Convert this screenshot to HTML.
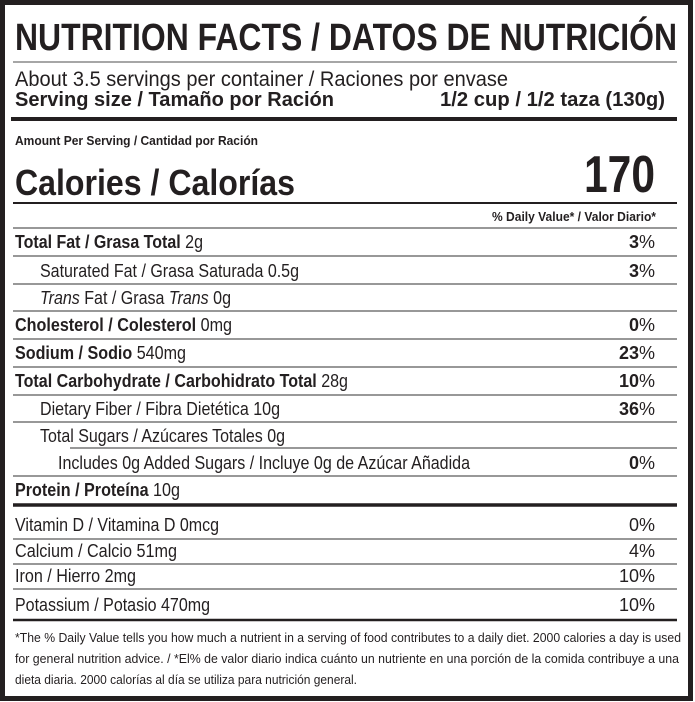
<!DOCTYPE html>
<html><head><meta charset="utf-8"><style>
html,body{margin:0;padding:0;background:#fff;}
svg{display:block;}
text{font-family:"Liberation Sans",Arial,sans-serif;fill:#231f20;}
.b{font-weight:bold;}
</style></head><body>
<svg width="695" height="702" viewBox="0 0 695 702" xmlns="http://www.w3.org/2000/svg">
<rect x="0" y="0" width="695" height="702" fill="#fff"/>
<rect x="2.5" y="2.5" width="688" height="696" fill="none" stroke="#231f20" stroke-width="5"/>
<g stroke="#231f20">
<line x1="13" y1="62" x2="677" y2="62" stroke="#888" stroke-width="1.5"/>
<line x1="11" y1="119" x2="677" y2="119" stroke-width="4"/>
<line x1="13" y1="203" x2="677" y2="203" stroke-width="2"/>
<line x1="13" y1="228" x2="677" y2="228" stroke="#777" stroke-width="1.5"/>
<line x1="13" y1="256" x2="677" y2="256" stroke="#777" stroke-width="1.5"/>
<line x1="13" y1="284" x2="677" y2="284" stroke="#777" stroke-width="1.5"/>
<line x1="13" y1="311" x2="677" y2="311" stroke="#777" stroke-width="1.5"/>
<line x1="13" y1="339" x2="677" y2="339" stroke="#777" stroke-width="1.5"/>
<line x1="13" y1="367" x2="677" y2="367" stroke="#777" stroke-width="1.5"/>
<line x1="13" y1="395" x2="677" y2="395" stroke="#777" stroke-width="1.5"/>
<line x1="13" y1="422" x2="677" y2="422" stroke="#777" stroke-width="1.5"/>
<line x1="70" y1="448" x2="677" y2="448" stroke="#777" stroke-width="1.5"/>
<line x1="13" y1="476" x2="677" y2="476" stroke="#777" stroke-width="1.5"/>
<line x1="13" y1="505" x2="677" y2="505" stroke-width="3.5"/>
<line x1="13" y1="539" x2="677" y2="539" stroke="#777" stroke-width="1.5"/>
<line x1="13" y1="564" x2="677" y2="564" stroke="#777" stroke-width="1.5"/>
<line x1="13" y1="589" x2="677" y2="589" stroke="#777" stroke-width="1.5"/>
<line x1="13" y1="620" x2="677" y2="620" stroke-width="2.5"/>
</g>
<text x="15" y="50" font-size="38" class="b" textLength="662" lengthAdjust="spacingAndGlyphs">NUTRITION FACTS / DATOS DE NUTRICIÓN</text>
<text x="15" y="86" font-size="21" textLength="493" lengthAdjust="spacingAndGlyphs">About 3.5 servings per container / Raciones por envase</text>
<text x="15" y="106" font-size="20" class="b" textLength="319" lengthAdjust="spacingAndGlyphs">Serving size / Tamaño por Ración</text>
<text x="440" y="106" font-size="20" class="b" textLength="225" lengthAdjust="spacingAndGlyphs">1/2 cup / 1/2 taza (130g)</text>
<text x="15" y="145" font-size="12.5" class="b" textLength="243" lengthAdjust="spacingAndGlyphs">Amount Per Serving / Cantidad por Ración</text>
<text x="15" y="195" font-size="36" class="b" textLength="280" lengthAdjust="spacingAndGlyphs">Calories / Calorías</text>
<text x="655" y="192" font-size="52" class="b" text-anchor="end" textLength="71" lengthAdjust="spacingAndGlyphs">170</text>
<text x="656" y="221" font-size="12.5" class="b" text-anchor="end" textLength="164" lengthAdjust="spacingAndGlyphs">% Daily Value* / Valor Diario*</text>

<g font-size="18">
<text x="15" y="248" textLength="188" lengthAdjust="spacingAndGlyphs"><tspan class="b">Total Fat / Grasa Total</tspan> 2g</text>
<text x="40" y="277" textLength="259" lengthAdjust="spacingAndGlyphs">Saturated Fat / Grasa Saturada 0.5g</text>
<text x="40" y="304" textLength="191" lengthAdjust="spacingAndGlyphs"><tspan font-style="italic">Trans</tspan> Fat / Grasa <tspan font-style="italic">Trans</tspan> 0g</text>
<text x="15" y="331" textLength="217" lengthAdjust="spacingAndGlyphs"><tspan class="b">Cholesterol / Colesterol</tspan> 0mg</text>
<text x="15" y="359" textLength="171" lengthAdjust="spacingAndGlyphs"><tspan class="b">Sodium / Sodio</tspan> 540mg</text>
<text x="15" y="387" textLength="333" lengthAdjust="spacingAndGlyphs"><tspan class="b">Total Carbohydrate / Carbohidrato Total</tspan> 28g</text>
<text x="40" y="415" textLength="240" lengthAdjust="spacingAndGlyphs">Dietary Fiber / Fibra Dietética 10g</text>
<text x="40" y="442" textLength="245" lengthAdjust="spacingAndGlyphs">Total Sugars / Azúcares Totales 0g</text>
<text x="58" y="469" textLength="412" lengthAdjust="spacingAndGlyphs">Includes 0g Added Sugars / Incluye 0g de Azúcar Añadida</text>
<text x="15" y="496" textLength="165" lengthAdjust="spacingAndGlyphs"><tspan class="b">Protein / Proteína</tspan> 10g</text>
<g text-anchor="end">
<text x="655" y="248"><tspan class="b">3</tspan>%</text>
<text x="655" y="277"><tspan class="b">3</tspan>%</text>
<text x="655" y="331"><tspan class="b">0</tspan>%</text>
<text x="655" y="359"><tspan class="b">23</tspan>%</text>
<text x="655" y="387"><tspan class="b">10</tspan>%</text>
<text x="655" y="415"><tspan class="b">36</tspan>%</text>
<text x="655" y="469"><tspan class="b">0</tspan>%</text>
</g>
</g>
<g font-size="18">
<text x="15" y="531" textLength="204" lengthAdjust="spacingAndGlyphs">Vitamin D / Vitamina D 0mcg</text>
<text x="15" y="557" textLength="162" lengthAdjust="spacingAndGlyphs">Calcium / Calcio 51mg</text>
<text x="15" y="582" textLength="121" lengthAdjust="spacingAndGlyphs">Iron / Hierro 2mg</text>
<text x="15" y="611" textLength="195" lengthAdjust="spacingAndGlyphs">Potassium / Potasio 470mg</text>
<g text-anchor="end">
<text x="655" y="531">0%</text>
<text x="655" y="557">4%</text>
<text x="655" y="582">10%</text>
<text x="655" y="611">10%</text>
</g>
</g>
<g font-size="13">
<text x="15" y="642" textLength="666" lengthAdjust="spacingAndGlyphs">*The % Daily Value tells you how much a nutrient in a serving of  food contributes to a daily diet. 2000 calories a day is used</text>
<text x="15" y="663" textLength="664" lengthAdjust="spacingAndGlyphs">for general nutrition advice. / *El% de valor diario indica cuánto un nutriente en una porción de la comida contribuye a una</text>
<text x="15" y="684" textLength="342" lengthAdjust="spacingAndGlyphs">dieta diaria. 2000 calorías al día se utiliza para nutrición general.</text>
</g>
</svg>
</body></html>
